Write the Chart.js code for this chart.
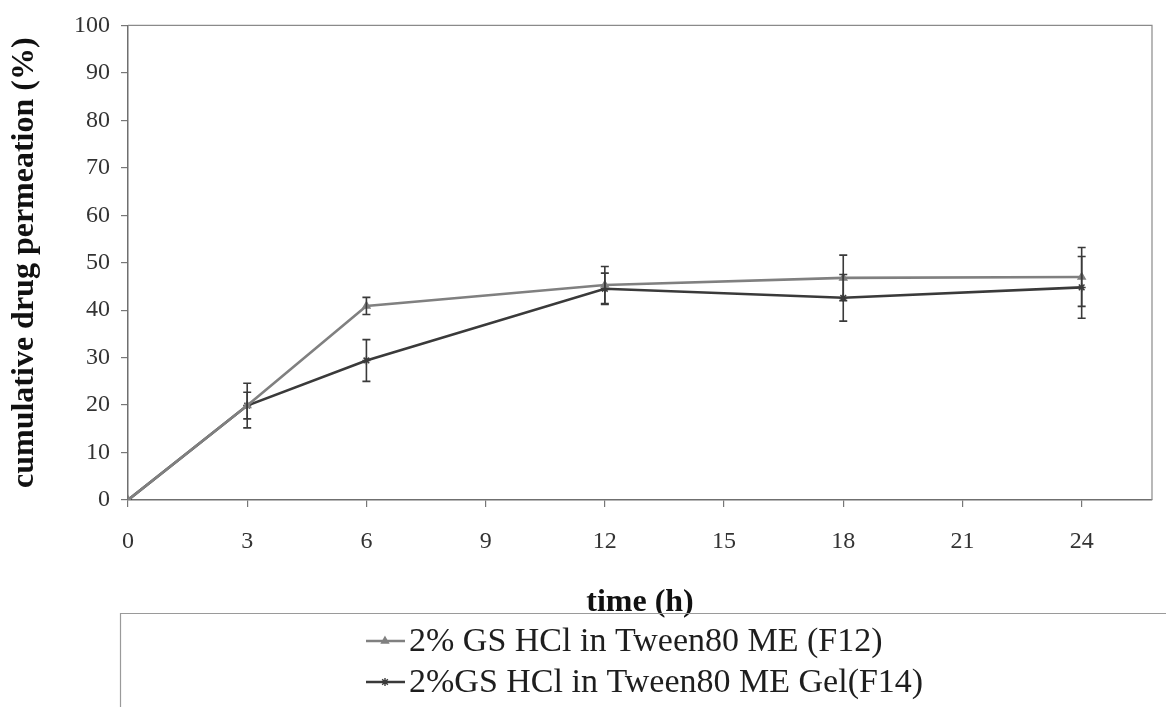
<!DOCTYPE html>
<html>
<head>
<meta charset="utf-8">
<script src="https://cdn.jsdelivr.net/npm/chart.js@4.4.1/dist/chart.umd.min.js"></script>
<style>
html,body{margin:0;padding:0;background:#fff;}
#wrap{position:relative;width:1166px;height:707px;}
</style>
</head>
<body>
<div id="wrap"><canvas id="c" width="1166" height="707"></canvas></div>
<script>
const timeH = [0, 3, 6, 12, 18, 24];
const f12Values = [0, 19.9, 40.9, 45.3, 46.8, 47.0];
const f12Errors = [0, 2.8, 1.8, 3.9, 4.8, 6.2];
const f14Values = [0, 19.9, 29.4, 44.5, 42.6, 44.8];
const f14Errors = [0, 4.7, 4.4, 3.3, 4.9, 6.5];
const seriesNames = ['2% GS HCl in Tween80 ME (F12)', '2%GS HCl in Tween80 ME Gel(F14)'];
const xTicks = [0, 3, 6, 9, 12, 15, 18, 21, 24];
const yTicks = [0, 10, 20, 30, 40, 50, 60, 70, 80, 90, 100];

const F12_COLOR = '#808080';
const F14_COLOR = '#3a3a3a';
const SERIF = '"Liberation Serif", "DejaVu Serif", serif';

const errorBarPlugin = {
  id: 'errorBars',
  afterDatasetsDraw(chart) {
    const ctx = chart.ctx;
    const ys = chart.scales.y;
    chart.data.datasets.forEach((ds, i) => {
      const meta = chart.getDatasetMeta(i);
      ctx.save();
      ctx.strokeStyle = '#3a3a3a';
      ctx.lineWidth = 1.6;
      meta.data.forEach((pt, j) => {
        const e = ds.errors[j];
        if (!e) return;
        const v = ds.data[j].y;
        const yTop = ys.getPixelForValue(v + e);
        const yBot = ys.getPixelForValue(v - e);
        const x = pt.x;
        ctx.beginPath();
        ctx.moveTo(x, yTop); ctx.lineTo(x, yBot);
        ctx.moveTo(x - 4, yTop); ctx.lineTo(x + 4, yTop);
        ctx.moveTo(x - 4, yBot); ctx.lineTo(x + 4, yBot);
        ctx.stroke();
      });
      ctx.restore();
    });
  }
};

const frameAndLegendPlugin = {
  id: 'frameLegend',
  beforeDatasetsDraw(chart) {
    const {ctx, chartArea: a} = chart;
    ctx.save();
    ctx.strokeStyle = '#8a8a8a';
    ctx.lineWidth = 1.2;
    ctx.beginPath();
    ctx.moveTo(a.left, a.top); ctx.lineTo(a.right, a.top); ctx.lineTo(a.right, a.bottom);
    ctx.stroke();
    ctx.restore();
  },
  afterDraw(chart) {
    const ctx = chart.ctx;
    ctx.save();
    ctx.strokeStyle = '#9a9a9a';
    ctx.lineWidth = 1.2;
    ctx.beginPath();
    ctx.moveTo(120.5, 707); ctx.lineTo(120.5, 613.5); ctx.lineTo(1166, 613.5);
    ctx.stroke();
    const entries = [
      {name: seriesNames[0], color: F12_COLOR, y: 641, style: 'triangle'},
      {name: seriesNames[1], color: F14_COLOR, y: 682, style: 'star'}
    ];
    ctx.font = '34px ' + SERIF;
    ctx.textBaseline = 'middle';
    ctx.textAlign = 'left';
    entries.forEach(en => {
      ctx.strokeStyle = en.color;
      ctx.fillStyle = en.color;
      ctx.lineWidth = 2.5;
      ctx.beginPath();
      ctx.moveTo(366, en.y); ctx.lineTo(405, en.y);
      ctx.stroke();
      ctx.lineWidth = 1.4;
      Chart.helpers.drawPoint(ctx, {pointStyle: en.style, radius: 4, rotation: 0, borderWidth: 1.4}, 385, en.y);
      ctx.fillStyle = '#1e1e1e';
      ctx.fillText(en.name, 409, en.y + 1);
    });
    ctx.restore();
  }
};

const toPts = (vals) => timeH.map((t, i) => ({x: t, y: vals[i]}));

new Chart(document.getElementById('c'), {
  type: 'line',
  data: {
    datasets: [
      {
        label: seriesNames[0],
        data: toPts(f12Values),
        errors: f12Errors,
        borderColor: F12_COLOR,
        backgroundColor: F12_COLOR,
        borderWidth: 2.6,
        pointStyle: 'triangle',
        pointRadius: 4,
        pointBorderWidth: 1.5,
        tension: 0
      },
      {
        label: seriesNames[1],
        data: toPts(f14Values),
        errors: f14Errors,
        borderColor: F14_COLOR,
        backgroundColor: F14_COLOR,
        borderWidth: 2.6,
        pointStyle: 'star',
        pointRadius: 4,
        pointBorderWidth: 1.5,
        tension: 0
      }
    ]
  },
  options: {
    responsive: false,
    animation: false,
    layout: {padding: {left: 6, top: 23, right: 14, bottom: 85}},
    plugins: {legend: {display: false}, tooltip: {enabled: false}},
    scales: {
      x: {
        type: 'linear',
        min: 0,
        max: 25.77,
        afterBuildTicks: (s) => { s.ticks = xTicks.map(v => ({value: v})); },
        afterFit: (s) => { s.height = 122; },
        grid: {display: true, drawOnChartArea: false, drawTicks: true, tickLength: 7, color: '#777', lineWidth: 1.2},
        border: {display: true, color: '#6f6f6f', width: 1.5},
        ticks: {font: {family: SERIF, size: 24}, color: '#333', padding: 20, maxRotation: 0, autoSkip: false},
        title: {display: true, text: 'time (h)', font: {family: SERIF, size: 32, weight: 'bold'}, color: '#111', padding: 0}
      },
      y: {
        min: 0,
        max: 100,
        afterBuildTicks: (s) => { s.ticks = yTicks.map(v => ({value: v})); },
        afterFit: (s) => { s.width = 122; },
        grid: {display: true, drawOnChartArea: false, drawTicks: true, tickLength: 7, color: '#777', lineWidth: 1.2},
        border: {display: true, color: '#6f6f6f', width: 1.5},
        ticks: {font: {family: SERIF, size: 24}, color: '#333', padding: 11, autoSkip: false},
        title: {display: true, text: 'cumulative drug permeation (%)', font: {family: SERIF, size: 32, weight: 'bold'}, color: '#111', padding: 0}
      }
    }
  },
  plugins: [errorBarPlugin, frameAndLegendPlugin]
});
</script>
</body>
</html>
